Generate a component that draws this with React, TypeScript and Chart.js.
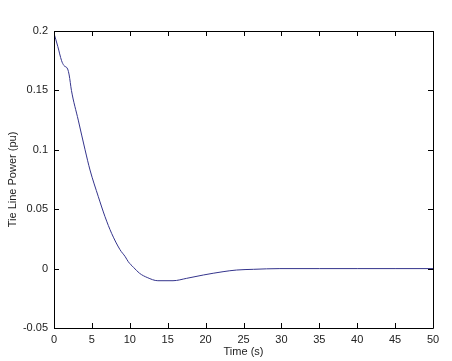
import React, { useEffect, useRef } from "react";
import { Chart, registerables } from "chart.js";

Chart.register(...registerables);

const timeS = [0, 0.5, 1.0, 1.3, 1.8, 2.0, 2.3, 3.2, 4.1, 4.75, 5.85, 6.73, 7.6, 8.7, 9.4, 9.8, 10.5, 11.3, 12.3, 13.7, 15.7, 17.5, 19.7, 22.3, 24.1, 26.3, 29.8, 35, 40, 45, 50];
const tiePower = [0.198, 0.187, 0.175, 0.171, 0.168, 0.163, 0.15, 0.125, 0.1, 0.083, 0.0605, 0.0437, 0.0297, 0.016, 0.01, 0.0058, 0.001, -0.004, -0.0075, -0.0102, -0.0102, -0.0082, -0.0054, -0.0026, -0.0012, -0.0006, 0, 0, 0, 0, 0];
const xTicks = [0, 5, 10, 15, 20, 25, 30, 35, 40, 45, 50];
const yTicks = [-0.05, 0, 0.05, 0.1, 0.15, 0.2];

const FONT = "'Liberation Sans', Arial, sans-serif";

const boxPlugin = {
  id: "boxTicks",
  afterDraw(chart: any) {
    const { ctx, chartArea: a, scales } = chart;
    const L = 5;
    ctx.save();
    ctx.strokeStyle = "#000";
    ctx.lineWidth = 1;
    ctx.beginPath();
    ctx.rect(Math.round(a.left) + 0.5, Math.round(a.top) + 0.5, Math.round(a.right - a.left), Math.round(a.bottom - a.top));
    for (const v of xTicks) {
      const x = Math.round(scales.x.getPixelForValue(v)) + 0.5;
      ctx.moveTo(x, a.bottom);
      ctx.lineTo(x, a.bottom - L);
      ctx.moveTo(x, a.top);
      ctx.lineTo(x, a.top + L);
    }
    for (const v of yTicks) {
      const y = Math.round(scales.y.getPixelForValue(v)) + 0.5;
      ctx.moveTo(a.left, y);
      ctx.lineTo(a.left + L, y);
      ctx.moveTo(a.right, y);
      ctx.lineTo(a.right - L, y);
    }
    ctx.stroke();
    ctx.restore();
  },
};

export default function App() {
  const ref = useRef<HTMLCanvasElement>(null);
  useEffect(() => {
    const data = timeS.map((t, i) => ({ x: t, y: tiePower[i] }));
    const chart = new Chart(ref.current!, {
      type: "line",
      data: {
        datasets: [
          {
            data,
            borderColor: "#34348c",
            borderWidth: 1,
            pointRadius: 0,
            cubicInterpolationMode: "monotone",
            fill: false,
          },
        ],
      },
      options: {
        animation: false,
        responsive: false,
        layout: { padding: { left: 0, right: 19, top: 31, bottom: 0 } },
        plugins: { legend: { display: false }, tooltip: { enabled: false } },
        scales: {
          x: {
            type: "linear",
            min: 0,
            max: 50,
            grid: { display: false, drawTicks: false },
            border: { display: false },
            afterBuildTicks: (s: any) => {
              s.ticks = xTicks.map((v) => ({ value: v }));
            },
            afterFit: (s: any) => {
              s.height = 33;
            },
            ticks: {
              color: "#222",
              padding: 5,
              maxRotation: 0,
              autoSkip: false,
              font: { family: FONT, size: 11 },
              callback: (v: any) => String(v),
            },
            title: {
              display: true,
              text: "Time (s)",
              color: "#222",
              padding: { top: 0, bottom: 2 },
              font: { family: FONT, size: 11 },
            },
          },
          y: {
            type: "linear",
            min: -0.05,
            max: 0.2,
            grid: { display: false, drawTicks: false },
            border: { display: false },
            afterBuildTicks: (s: any) => {
              s.ticks = yTicks.map((v) => ({ value: v }));
            },
            afterFit: (s: any) => {
              s.width = 54;
            },
            ticks: {
              color: "#222",
              padding: 6,
              autoSkip: false,
              font: { family: FONT, size: 11 },
              callback: (v: any) => String(Math.round(v * 100) / 100),
            },
            title: {
              display: true,
              text: "Tie Line Power (pu)",
              color: "#222",
              padding: { top: 6, bottom: 0 },
              font: { family: FONT, size: 11 },
            },
          },
        },
      },
      plugins: [boxPlugin],
    } as any);
    return () => chart.destroy();
  }, []);
  return (
    <div style={{ position: "fixed", left: 0, top: 0, width: 452, height: 361, background: "#fff" }}>
      <canvas ref={ref} width={452} height={361} />
    </div>
  );
}
